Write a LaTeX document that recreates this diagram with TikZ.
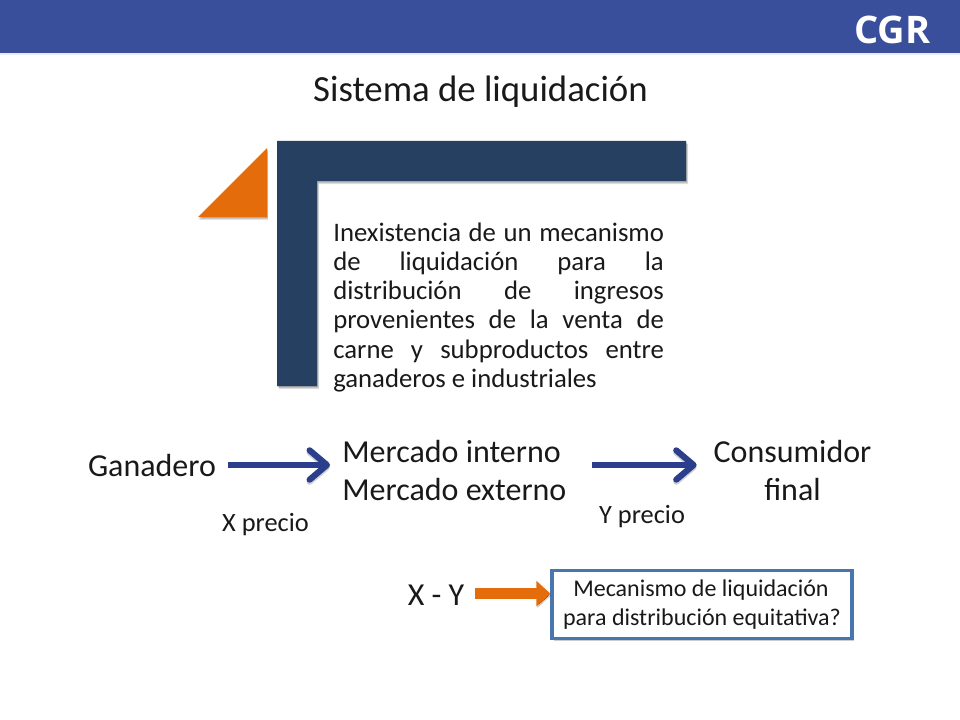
\documentclass[tikz,border=0pt]{standalone}
\usepackage{fontspec}
\setmainfont{Carlito}
\newfontfamily\logofont{Open Sans}
\usetikzlibrary{arrows.meta,shadows}
\definecolor{headerblue}{RGB}{58,79,156}
\definecolor{navy}{RGB}{37,64,97}
\definecolor{orng}{RGB}{228,108,10}
\definecolor{arrowblue}{RGB}{42,62,140}
\definecolor{boxblue}{RGB}{74,118,176}
\tikzset{
  softshadow/.style={fill=black,opacity=0.10},
  bigtext/.style={inner sep=0pt,font=\fontsize{24}{28.5}\selectfont,align=center,text=black!90},
  smalltext/.style={inner sep=0pt,font=\fontsize{19.8}{24}\selectfont,text=black!90},
  bluearrow/.style={draw=arrowblue,line width=4.9pt,-{Straight Barb[length=13pt,width=22pt,line width=4.6pt,round]},
    preaction={draw=black,draw opacity=0.18,transform canvas={yshift=-1.6pt}}},
  orangearrow/.style={draw=orng,line width=8.5pt,-{Triangle[length=10.5pt,width=18.5pt]},
    preaction={draw=black,draw opacity=0.18,transform canvas={xshift=0.6pt,yshift=-1.4pt}}}
}
\begin{document}
\begin{tikzpicture}[x=0.75pt,y=-0.75pt]
\useasboundingbox (0,0) rectangle (960,720);
\fill[white] (0,0) rectangle (960,720);
% header
\fill[headerblue] (0,0) rectangle (960,53);
\fill[black,opacity=0.08] (0,53) rectangle (960,55);
\node[inner sep=0pt,text=white,font=\logofont\bfseries\fontsize{28.5}{32}\selectfont] (logo) at (892.5,29.5) {CGR};
% title
\node[inner sep=0pt,font=\fontsize{27.6}{32}\selectfont,text=black!90] (title) at (480.5,91.5) {Sistema de liquidación};
% half frame shadow and shape
\foreach \d in {1,2,3,4}{
  \fill[softshadow,xshift=0.75*\d*0.5pt,yshift=-0.75*\d*0.8pt]
    (277,141) -- (686,141) -- (686,181) -- (317,181) -- (317,386) -- (277,386) -- cycle;
  \fill[softshadow,xshift=0.75*\d*0.3pt,yshift=-0.75*\d*0.7pt]
    (267,148) -- (267,217) -- (198,217) -- cycle;
}
\fill[navy] (277,141) -- (686,141) -- (686,181) -- (317,181) -- (317,386) -- (277,386) -- cycle;
\fill[orng] (267,148) -- (267,217) -- (198,217) -- cycle;
% paragraph
\node[anchor=north west,inner sep=0pt,text width=248pt,align=justify,font=\fontsize{20.05}{21.9}\selectfont,text=black!90] (para) at (333,222.5)
{Inexistencia de un mecanismo\linebreak de liquidación para la\linebreak distribución de ingresos\linebreak provenientes de la venta de\linebreak carne y subproductos entre\linebreak ganaderos e industriales};
% flow
\node[bigtext] (gan) at (152,466) {Ganadero};
\node[bigtext,anchor=west,align=left] (mer) at (342,471) {Mercado interno\\Mercado externo};
\node[bigtext] (con) at (792.5,471) {Consumidor\\final};
\draw[bluearrow] ([xshift=9pt,yshift=0.75pt]gan.east) -- ([yshift=0.75pt,xshift=-9pt]gan.east -| mer.west);
\draw[bluearrow] ([xshift=19pt,yshift=4.5pt]mer.east) -- ([xshift=-12.5pt,yshift=4.5pt]mer.east -| con.west);
\node[smalltext] (xp) at (265.5,524.5) {X precio};
\node[smalltext] (yp) at (642,516.5) {Y precio};
% lower row
\node[bigtext] (xy) at (436,595) {X - Y};
\node[draw=boxblue,line width=2.3pt,fill=white,drop shadow={shadow xshift=1.5pt,shadow yshift=-1.7pt,opacity=0.4},minimum width=225pt,minimum height=51pt,inner sep=0pt,align=center,font=\fontsize{18}{21.7}\selectfont,text=black!90] (box) at (702,604.5) {\makebox[0pt]{\hspace{-1.5pt}Mecanismo de liquidación}\\para distribución equitativa?};
\draw[orangearrow] ([xshift=8pt,yshift=1pt]xy.east) -- ([yshift=1pt]xy.east -| box.west);
\end{tikzpicture}
\end{document}
